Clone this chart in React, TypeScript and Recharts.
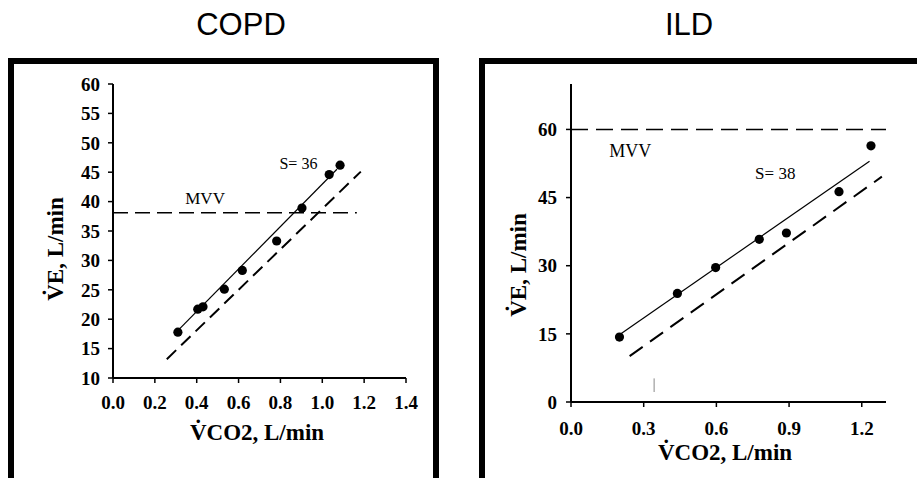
import React from 'react';
import {
  ScatterChart,
  Scatter,
  XAxis,
  YAxis,
  ReferenceLine,
  ReferenceDot,
  Label,
} from 'recharts';

// COPD panel
const copdVco2 = [0.31, 0.405, 0.43, 0.532, 0.618, 0.782, 0.903, 1.033, 1.085];
const copdVe = [17.8, 21.7, 22.1, 25.1, 28.3, 33.3, 38.9, 44.6, 46.2];
const copdFit = [
  { x: 0.305, y: 17.9 },
  { x: 1.07, y: 45.5 },
];
const copdPredicted = [
  { x: 0.257, y: 13.2 },
  { x: 1.184, y: 45.1 },
];
const copdMvv = 38.1;
const copdMvvEnd = 1.165;
const copdXTicks = [0, 0.2, 0.4, 0.6, 0.8, 1.0, 1.2, 1.4];
const copdYTicks = [10, 15, 20, 25, 30, 35, 40, 45, 50, 55, 60];

// ILD panel
const ildVco2 = [0.2, 0.439, 0.597, 0.777, 0.889, 1.106, 1.238];
const ildVe = [14.3, 23.9, 29.6, 35.8, 37.2, 46.3, 56.4];
const ildFit = [
  { x: 0.2, y: 14.8 },
  { x: 1.232, y: 53.0 },
];
const ildPredicted = [
  { x: 0.242, y: 10.1 },
  { x: 1.283, y: 49.6 },
];
const ildMvv = 60;
const ildMvvEnd = 1.3;
const ildXTicks = [0, 0.3, 0.6, 0.9, 1.2];
const ildYTicks = [0, 15, 30, 45, 60];
// small stray scan mark near the ILD x axis
const ildSpeck = [
  { x: 0.343, y: 2.2 },
  { x: 0.343, y: 5.2 },
];

const copdPoints = copdVco2.map((x, i) => ({ x, y: copdVe[i] }));
const ildPoints = ildVco2.map((x, i) => ({ x, y: ildVe[i] }));

const SERIF = '"Liberation Serif", "Times New Roman", serif';
const SANS = '"Liberation Sans", Arial, sans-serif';

const dot = (p: any) => <circle cx={p.cx} cy={p.cy} r={4.6} fill="#000" />;

const XTick = (p: any) => (
  <text x={p.x} y={p.y} dy="0.71em" textAnchor="middle" fontFamily={SERIF} fontWeight={700} fontSize={19} fill="#000">
    {Number(p.payload.value).toFixed(1)}
  </text>
);

const YTick = (p: any) => (
  <text x={p.x} y={p.y} dy="0.355em" textAnchor="end" fontFamily={SERIF} fontWeight={700} fontSize={19} fill="#000">
    {p.payload.value}
  </text>
);

// axis title drawn at a fixed spot inside the chart's svg
const axisTitle = (text: string, x: number, y: number, vertical: boolean) => () =>
  (
    <text
      x={x}
      y={y}
      textAnchor="middle"
      dominantBaseline={vertical ? 'central' : 'alphabetic'}
      transform={vertical ? `rotate(-90 ${x} ${y})` : undefined}
      fontFamily={SERIF}
      fontWeight={700}
      fontSize={23}
      fill="#000"
    >
      {text}
    </text>
  );

const noteLabel = (text: string, size: number) => ({
  value: text,
  position: 'center' as const,
  fill: '#000',
  fontSize: size,
  fontFamily: SERIF,
});

const frame: React.CSSProperties = {
  position: 'absolute',
  top: 58,
  height: 430,
  border: '6px solid #000',
  boxSizing: 'border-box',
};

const title: React.CSSProperties = {
  position: 'absolute',
  top: 9,
  width: 200,
  textAlign: 'center',
  fontFamily: SANS,
  fontSize: 31,
  lineHeight: '31px',
  color: '#000',
};

const axisLine = { stroke: '#000', strokeWidth: 2 };
const tickLine = { stroke: '#000', strokeWidth: 1.5 };

export default function App() {
  return (
    <div
      style={{
        position: 'absolute',
        left: 0,
        top: 0,
        width: 917,
        height: 478,
        overflow: 'hidden',
        background: '#fff',
      }}
    >
      <div style={{ ...title, left: 141 }}>COPD</div>
      <div style={{ ...title, left: 589 }}>ILD</div>
      <div style={{ ...frame, left: 8, width: 431 }} />
      <div style={{ ...frame, left: 479, width: 460 }} />

      <div style={{ position: 'absolute', left: 0, top: 0 }}>
        <ScatterChart width={460} height={478} margin={{ top: 84, right: 54, left: 53, bottom: 40 }}>
          <XAxis
            type="number"
            dataKey="x"
            domain={[0, 1.4]}
            ticks={copdXTicks}
            height={60}
            tick={<XTick />}
            tickSize={5}
            tickMargin={13}
            axisLine={axisLine}
            tickLine={tickLine}
          >
            <Label content={axisTitle('V\u0307CO2, L/min', 257, 440, false)} />
          </XAxis>
          <YAxis
            type="number"
            dataKey="y"
            domain={[10, 60]}
            ticks={copdYTicks}
            width={60}
            tick={<YTick />}
            tickSize={5}
            tickMargin={8}
            axisLine={axisLine}
            tickLine={tickLine}
          >
            <Label content={axisTitle('V\u0307E, L/min', 55, 249, true)} />
          </YAxis>
          <ReferenceLine
            segment={[
              { x: 0, y: copdMvv },
              { x: copdMvvEnd, y: copdMvv },
            ]}
            stroke="#000"
            strokeWidth={1.6}
            strokeDasharray="15 7"
          />
          <ReferenceLine segment={copdFit} stroke="#000" strokeWidth={1.2} />
          <ReferenceLine segment={copdPredicted} stroke="#000" strokeWidth={2} strokeDasharray="13 7" />
          <ReferenceDot x={0.44} y={40.7} r={1} fill="none" stroke="none" label={noteLabel('MVV', 17)} />
          <ReferenceDot x={0.886} y={46.5} r={1} fill="none" stroke="none" label={noteLabel('S= 36', 16)} />
          <Scatter data={copdPoints} shape={dot} isAnimationActive={false} />
        </ScatterChart>
      </div>

      <div style={{ position: 'absolute', left: 460, top: 0 }}>
        <ScatterChart width={457} height={478} margin={{ top: 84, right: 31, left: 51, bottom: 26 }}>
          <XAxis
            type="number"
            dataKey="x"
            domain={[0, 1.3]}
            ticks={ildXTicks}
            height={50}
            tick={<XTick />}
            tickSize={5}
            tickMargin={15}
            axisLine={axisLine}
            tickLine={tickLine}
          >
            <Label content={axisTitle('V\u0307CO2, L/min', 265, 460, false)} />
          </XAxis>
          <YAxis
            type="number"
            dataKey="y"
            domain={[0, 70]}
            ticks={ildYTicks}
            width={60}
            tick={<YTick />}
            tickSize={5}
            tickMargin={9}
            axisLine={axisLine}
            tickLine={tickLine}
          >
            <Label content={axisTitle('V\u0307E, L/min', 58, 265, true)} />
          </YAxis>
          <ReferenceLine
            segment={[
              { x: 0, y: ildMvv },
              { x: ildMvvEnd, y: ildMvv },
            ]}
            stroke="#000"
            strokeWidth={1.6}
            strokeDasharray="17 8"
          />
          <ReferenceLine segment={ildFit} stroke="#000" strokeWidth={1.2} />
          <ReferenceLine segment={ildPredicted} stroke="#000" strokeWidth={2} strokeDasharray="16 9" />
          <ReferenceLine segment={ildSpeck} stroke="#888" strokeWidth={1} />
          <ReferenceDot x={0.245} y={55.4} r={1} fill="none" stroke="none" label={noteLabel('MVV', 18)} />
          <ReferenceDot x={0.843} y={50.4} r={1} fill="none" stroke="none" label={noteLabel('S= 38', 17)} />
          <Scatter data={ildPoints} shape={dot} isAnimationActive={false} />
        </ScatterChart>
      </div>
    </div>
  );
}
